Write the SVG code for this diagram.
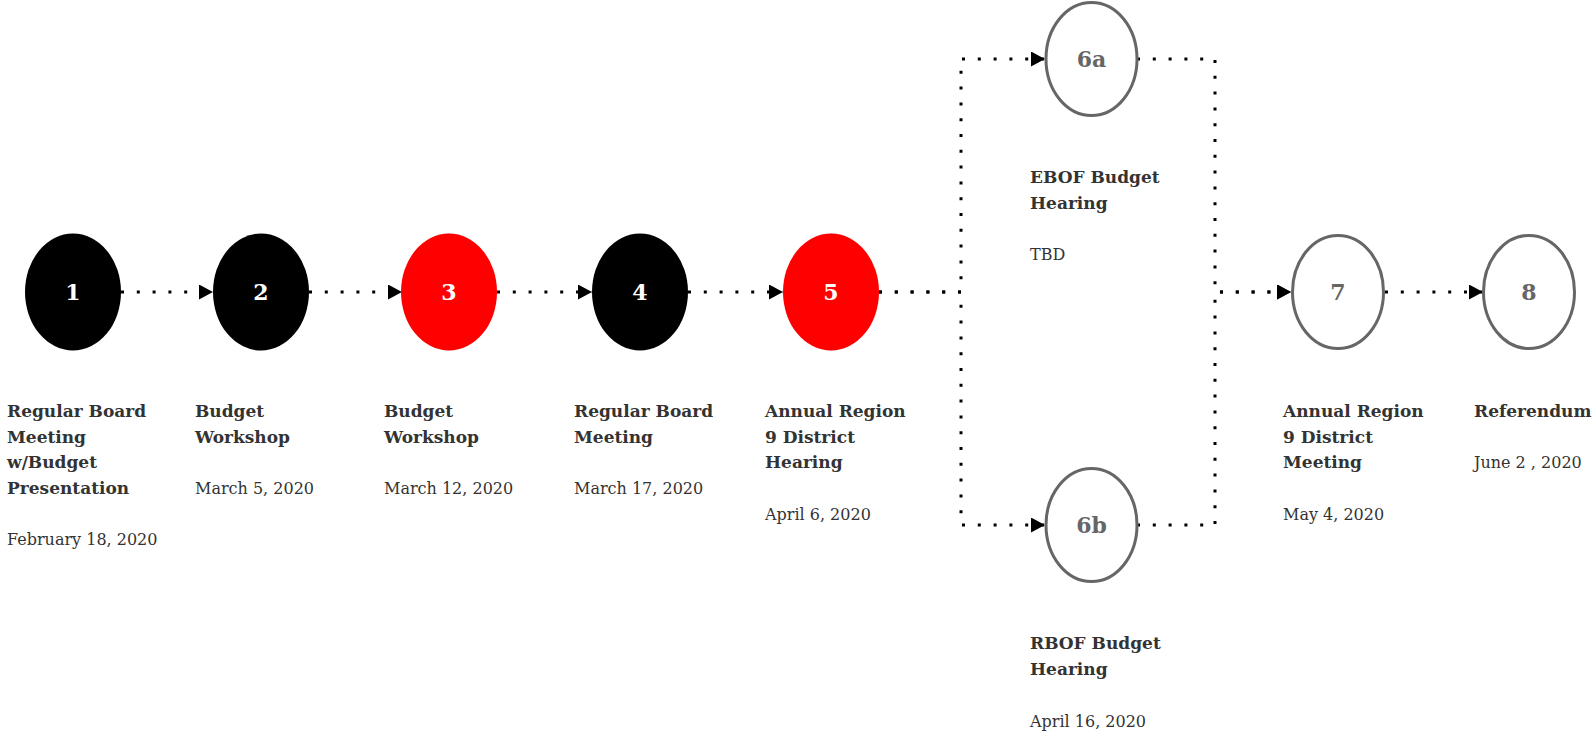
<svg xmlns="http://www.w3.org/2000/svg" width="1596" height="737" viewBox="0 0 1596 737">
<style>
.fill-black{fill:#000000}
.fill-red{fill:#FF0000}
.open{fill:#FFFFFF;stroke:#666666;stroke-width:3}
.num{font-family:"DejaVu Serif","Liberation Serif",serif;font-weight:bold;font-size:22px;text-anchor:middle}
.num-w{fill:#FFFFFF}
.num-g{fill:#666666}
.t{font-family:"DejaVu Serif","Liberation Serif",serif;font-size:17px;font-weight:bold;fill:#333333}
.d{font-family:"DejaVu Serif","Liberation Serif",serif;font-size:16px;fill:#333333}
.conn{fill:none;stroke:#000000;stroke-width:3;stroke-dasharray:3 12.8}
</style>
<defs>
<marker id="arrow" markerUnits="userSpaceOnUse" markerWidth="15" markerHeight="16" refX="14" refY="7.5" orient="auto">
<path d="M0,0 L14,7.5 L0,15 Z" fill="#000000"/>
</marker>
</defs>
<g id="connectors">
<path class="conn" d="M121,292 H213" marker-end="url(#arrow)"/>
<path class="conn" d="M309,292 H402" marker-end="url(#arrow)"/>
<path class="conn" d="M497,292 H592" marker-end="url(#arrow)"/>
<path class="conn" d="M688,292 H783" marker-end="url(#arrow)"/>
<path class="conn" d="M879,292 H961 V59 H1045" marker-end="url(#arrow)"/>
<path class="conn" d="M879,292 H961 V525 H1045" marker-end="url(#arrow)"/>
<path class="conn" d="M1137,59 H1215 V292 H1291" marker-end="url(#arrow)"/>
<path class="conn" d="M1137,525 H1215 V292 H1291" marker-end="url(#arrow)"/>
<path class="conn" d="M1385,292 H1483" marker-end="url(#arrow)"/>
</g>
<g id="node1">
<ellipse class="fill-black" cx="73" cy="292" rx="48" ry="58.5"/>
<text class="num num-w" x="73" y="300">1</text>
<text class="t" x="7" y="417">Regular Board</text>
<text class="t" x="7" y="442.7">Meeting</text>
<text class="t" x="7" y="468.4">w/Budget</text>
<text class="t" x="7" y="494">Presentation</text>
<text class="d" x="7" y="545">February 18, 2020</text>
</g>
<g id="node2">
<ellipse class="fill-black" cx="261" cy="292" rx="48" ry="58.5"/>
<text class="num num-w" x="261" y="300">2</text>
<text class="t" x="195" y="417">Budget</text>
<text class="t" x="195" y="442.7">Workshop</text>
<text class="d" x="195" y="494">March 5, 2020</text>
</g>
<g id="node3">
<ellipse class="fill-red" cx="449" cy="292" rx="48" ry="58.5"/>
<text class="num num-w" x="449" y="300">3</text>
<text class="t" x="384" y="417">Budget</text>
<text class="t" x="384" y="442.7">Workshop</text>
<text class="d" x="384" y="494">March 12, 2020</text>
</g>
<g id="node4">
<ellipse class="fill-black" cx="640" cy="292" rx="48" ry="58.5"/>
<text class="num num-w" x="640" y="300">4</text>
<text class="t" x="574" y="417">Regular Board</text>
<text class="t" x="574" y="442.7">Meeting</text>
<text class="d" x="574" y="494">March 17, 2020</text>
</g>
<g id="node5">
<ellipse class="fill-red" cx="831" cy="292" rx="48" ry="58.5"/>
<text class="num num-w" x="831" y="300">5</text>
<text class="t" x="765" y="417">Annual Region</text>
<text class="t" x="765" y="442.7">9 District</text>
<text class="t" x="765" y="468.4">Hearing</text>
<text class="d" x="765" y="520">April 6, 2020</text>
</g>
<g id="node6a">
<ellipse class="open" cx="1091.5" cy="59" rx="45.5" ry="56.5"/>
<text class="num num-g" x="1091.5" y="67">6a</text>
<text class="t" x="1030" y="183">EBOF Budget</text>
<text class="t" x="1030" y="208.7">Hearing</text>
<text class="d" x="1030" y="260">TBD</text>
</g>
<g id="node6b">
<ellipse class="open" cx="1091.5" cy="525" rx="45.5" ry="56.5"/>
<text class="num num-g" x="1091.5" y="533">6b</text>
<text class="t" x="1030" y="649">RBOF Budget</text>
<text class="t" x="1030" y="674.7">Hearing</text>
<text class="d" x="1030" y="727">April 16, 2020</text>
</g>
<g id="node7">
<ellipse class="open" cx="1338" cy="292" rx="45.5" ry="56.5"/>
<text class="num num-g" x="1338" y="300">7</text>
<text class="t" x="1283" y="417">Annual Region</text>
<text class="t" x="1283" y="442.7">9 District</text>
<text class="t" x="1283" y="468.4">Meeting</text>
<text class="d" x="1283" y="520">May 4, 2020</text>
</g>
<g id="node8">
<ellipse class="open" cx="1529" cy="292" rx="45.5" ry="56.5"/>
<text class="num num-g" x="1529" y="300">8</text>
<text class="t" x="1474" y="417">Referendum</text>
<text class="d" x="1474" y="468.4">June 2 , 2020</text>
</g>
</svg>
